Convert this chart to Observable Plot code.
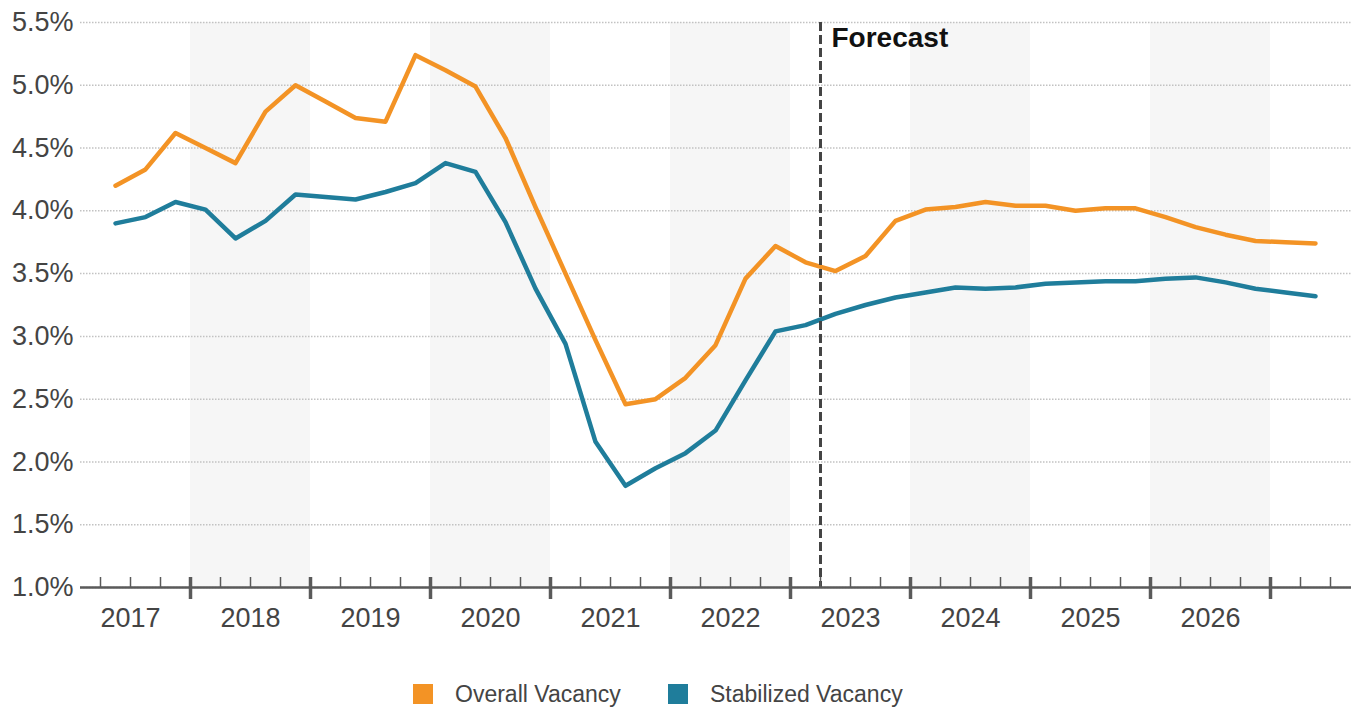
<!DOCTYPE html>
<html><head><meta charset="utf-8">
<script src="https://cdn.jsdelivr.net/npm/d3@7"></script>
<script src="https://cdn.jsdelivr.net/npm/@observablehq/plot@0.6"></script>
<style>
body{margin:0;background:#fff;font-family:"Liberation Sans",Arial,sans-serif;}
#legend{position:relative;height:59px;width:1359px;}
.item{position:absolute;top:32px;height:24px;display:flex;align-items:center;font-size:23px;color:#444;white-space:nowrap;}
.sw{width:20px;height:20px;margin-right:22px;}
</style></head><body>
<div id="chart"></div>
<div id="legend"></div>
<script>
// ---- data ----
const quarters = ["2017 Q2","2017 Q3","2017 Q4","2018 Q1","2018 Q2","2018 Q3","2018 Q4","2019 Q1","2019 Q2","2019 Q3","2019 Q4",
  "2020 Q1","2020 Q2","2020 Q3","2020 Q4","2021 Q1","2021 Q2","2021 Q3","2021 Q4","2022 Q1","2022 Q2","2022 Q3","2022 Q4",
  "2023 Q1","2023 Q2","2023 Q3","2023 Q4","2024 Q1","2024 Q2","2024 Q3","2024 Q4","2025 Q1","2025 Q2","2025 Q3","2025 Q4",
  "2026 Q1","2026 Q2","2026 Q3","2026 Q4","2027 Q1","2027 Q2"];
const overallVacancy = [4.20,4.33,4.62,4.50,4.38,4.79,5.00,4.87,4.74,4.71,5.24,5.12,4.99,4.58,4.03,3.50,2.97,2.46,2.50,2.67,2.93,3.46,3.72,3.59,3.52,3.64,3.92,4.01,4.03,4.07,4.04,4.04,4.00,4.02,4.02,3.95,3.87,3.81,3.76,3.75,3.74];
const stabilizedVacancy = [3.90,3.95,4.07,4.01,3.78,3.92,4.13,4.11,4.09,4.15,4.22,4.38,4.31,3.91,3.38,2.94,2.16,1.81,1.95,2.07,2.25,2.65,3.04,3.09,3.18,3.25,3.31,3.35,3.39,3.38,3.39,3.42,3.43,3.44,3.44,3.46,3.47,3.43,3.38,3.35,3.32];
const seriesNames = ["Overall Vacancy","Stabilized Vacancy"];
const seriesColors = ["#F39325","#1F7D9B"];
const yearLabels = [2017,2018,2019,2020,2021,2022,2023,2024,2025,2026];
const yearBoundaries = [2018,2019,2020,2021,2022,2023,2024,2025,2026,2027];
const shadedYears = [2018,2020,2022,2024,2026];
const yTicks = [1.0,1.5,2.0,2.5,3.0,3.5,4.0,4.5,5.0,5.5];
const forecastStart = "2023 Q2"; // dashed line at start of this quarter
const forecastLabel = "Forecast";

// ---- helpers ----
const qStart = s => { const [y,q] = s.split(" Q"); return +y + (+q - 1)/4; };
const rows = [];
quarters.forEach((q,i) => {
  rows.push({t: qStart(q) + 0.125, v: overallVacancy[i], s: seriesNames[0]});
  rows.push({t: qStart(q) + 0.125, v: stabilizedVacancy[i], s: seriesNames[1]});
});
const quarterTicks = [];
for (const y of [...yearLabels, 2027]) for (const k of [1,2,3]) if (y + k/4 <= 2027.5) quarterTicks.push(y + k/4);

const W = 1359, H = 650;
const font = '"Liberation Sans", Arial, sans-serif';

const chart = Plot.plot({
  width: W, height: H,
  marginLeft: 80, marginRight: 8, marginTop: 22, marginBottom: 63,
  style: {fontFamily: font, background: "#fff", overflow: "visible"},
  x: {type: "linear", domain: [2017 + 10/120, 2017 + 1281/120]},
  y: {domain: [1, 5.5]},
  color: {domain: seriesNames, range: seriesColors},
  marks: [
    Plot.rect(shadedYears, {x1: d => d, x2: d => d + 1, y1: 1, y2: 5.5, fill: "#f6f6f6"}),
    Plot.gridY(yTicks, {stroke: "#c2c2c2", strokeOpacity: 1, strokeWidth: 1.5, strokeDasharray: "1.5,1.5"}),
    Plot.line(rows, {x: "t", y: "v", z: "s", stroke: "s", strokeWidth: 4.5, strokeLinejoin: "round", strokeLinecap: "round"}),
    Plot.ruleX([qStart(forecastStart)], {stroke: "#444", strokeWidth: 3, strokeDasharray: "9,4"}),
    Plot.text([forecastLabel], {x: qStart(forecastStart), y: 5.5, text: d => d, textAnchor: "start", lineAnchor: "top",
      dx: 11, dy: 5, fontSize: 28, fontWeight: "bold", fill: "#111"}),
    Plot.ruleY([1], {stroke: "#5a5a5a", strokeWidth: 2.5}),
    Plot.axisX(quarterTicks, {tickSize: 10, dy: -10, fill: "none", stroke: "#5a5a5a", strokeWidth: 1.5, label: null, tickFormat: () => ""}),
    Plot.axisX(yearBoundaries, {tickSize: 22, dy: -10, fill: "none", stroke: "#5a5a5a", strokeWidth: 3.5, label: null, tickFormat: () => ""}),
    Plot.axisX(yearLabels.map(y => y + 0.5), {tickSize: 0, tickPadding: 20, tickFormat: d => String(Math.floor(d)),
      fontSize: 27, fill: "#444", label: null}),
    Plot.axisY(yTicks, {tickSize: 0, tickPadding: 7, tickFormat: d => d.toFixed(1) + "%", fontSize: 27, fill: "#444", label: null})
  ]
});
document.getElementById("chart").appendChild(chart);

const legend = document.getElementById("legend");
const lefts = [413, 668];
seriesNames.forEach((n, i) => {
  const it = document.createElement("div");
  it.className = "item";
  it.style.left = lefts[i] + "px";
  it.innerHTML = `<span class="sw" style="background:${seriesColors[i]}"></span><span>${n}</span>`;
  legend.appendChild(it);
});
</script></body></html>
